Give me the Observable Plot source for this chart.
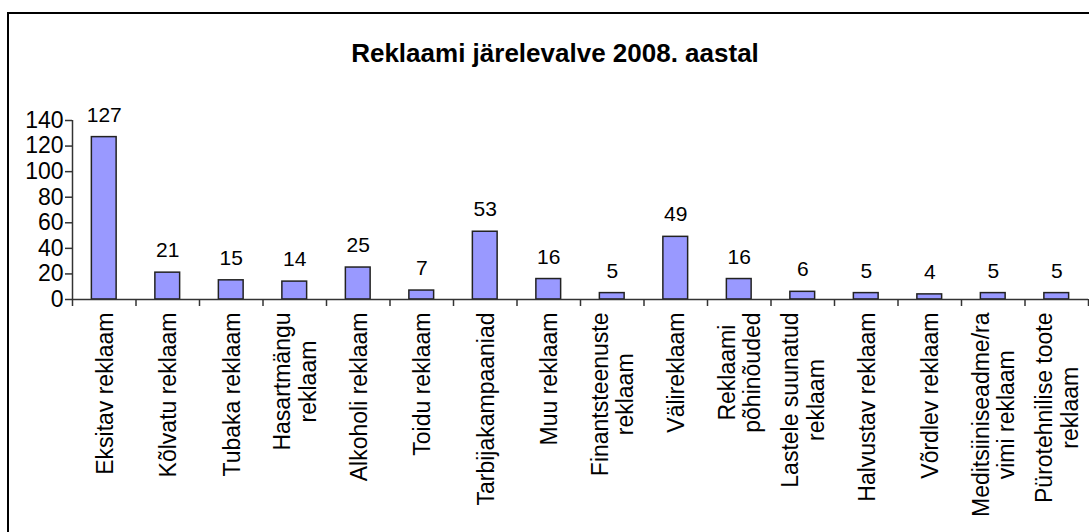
<!DOCTYPE html>
<html><head><meta charset="utf-8">
<script src="https://cdn.jsdelivr.net/npm/d3@7"></script>
<script src="https://cdn.jsdelivr.net/npm/@observablehq/plot@0.6"></script>
<style>
html,body{margin:0;padding:0;background:#fff;overflow:hidden;width:1089px;height:532px;}
#frame{position:absolute;left:7px;top:12px;width:1200px;height:600px;border:2px solid #000;}
#chart{position:absolute;left:0;top:0;}
</style></head><body>
<div id="frame"></div>
<div id="chart"></div>
<script>
const title = "Reklaami järelevalve 2008. aastal";
const categories = [
  "Eksitav reklaam",
  "Kõlvatu reklaam",
  "Tubaka reklaam",
  "Hasartmängu\nreklaam",
  "Alkoholi reklaam",
  "Toidu reklaam",
  "Tarbijakampaaniad",
  "Muu reklaam",
  "Finantsteenuste\nreklaam",
  "Välireklaam",
  "Reklaami\npõhinõuded",
  "Lastele suunatud\nreklaam",
  "Halvustav reklaam",
  "Võrdlev reklaam",
  "Meditsiiniseadme/ra\nvimi reklaam",
  "Pürotehnilise toote\nreklaam"
];
const values = [127, 21, 15, 14, 25, 7, 53, 16, 5, 49, 16, 6, 5, 4, 5, 5];
const yTicks = [0, 20, 40, 60, 80, 100, 120, 140];

const FONT = "'Liberation Sans', Arial, sans-serif";
const labelSize = 23;
const data = categories.map((c, i) => ({i, c, v: values[i]}));

const ctx = document.createElement("canvas").getContext("2d");
ctx.font = `${labelSize}px 'Liberation Sans', Arial`;
const maxLen = c => Math.max(...c.split("\n").map(l => ctx.measureText(l).width));

const labelMarks = data.map(d => Plot.text([d], {
  x: r => r.i + 0.5,
  text: "c",
  frameAnchor: "bottom",
  rotate: -90,
  textAnchor: "middle",
  lineAnchor: "middle",
  lineHeight: 1.12,
  fontSize: labelSize,
  fill: "#000",
  dy: 13 + maxLen(d.c) / 2
}));

const chart = Plot.plot({
  width: 1089,
  height: 532,
  marginLeft: 72,
  marginRight: 1,
  marginTop: 120,
  marginBottom: 233,
  style: {fontFamily: FONT, color: "#000", background: "transparent"},
  x: {domain: [0, categories.length], axis: null},
  y: {domain: [0, 140], axis: null},
  marks: [
    Plot.axisY({ticks: yTicks, label: null, tickSize: 7, tickPadding: 2, fontSize: 23, stroke: "#333", strokeWidth: 1.5, fill: "#000"}),
    Plot.axisX({ticks: d3.range(categories.length + 1), label: null, tickSize: 7, tickFormat: () => "", stroke: "#333", strokeWidth: 1.5}),
    Plot.rectY(data, {x1: d => d.i + 0.305, x2: d => d.i + 0.695, y: "v", fill: "#9999FF", stroke: "#222", strokeWidth: 1.5}),
    Plot.ruleX([0], {y1: 0, y2: 140, stroke: "#333", strokeWidth: 1.5}),
    Plot.ruleY([0], {x1: 0, x2: categories.length, stroke: "#333", strokeWidth: 1.5}),
    Plot.text(data, {x: d => d.i + 0.5, y: "v", text: d => String(d.v), lineAnchor: "bottom", dy: -15.5, fontSize: 21, fill: "#000"}),
    ...labelMarks,
    Plot.text([title], {frameAnchor: "top", lineAnchor: "bottom", dy: -59, dx: -25.5, fontSize: 26, fontWeight: "bold", fill: "#000"})
  ]
});
document.getElementById("chart").appendChild(chart);
</script>
</body></html>
